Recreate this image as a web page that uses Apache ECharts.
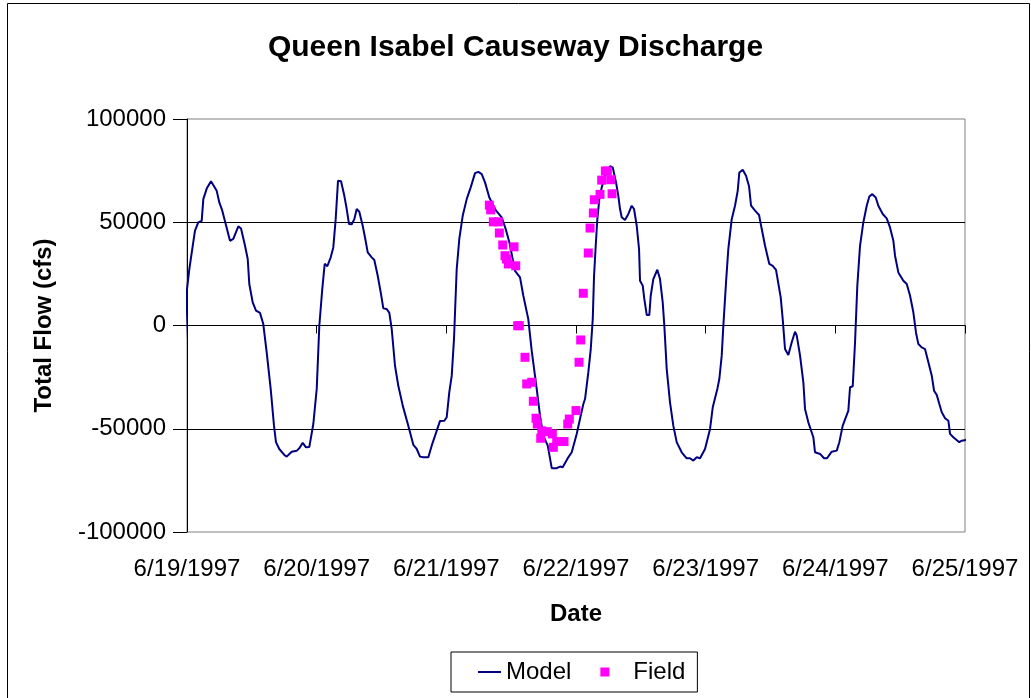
<!DOCTYPE html>
<html>
<head>
<meta charset="utf-8">
<script src="https://cdn.jsdelivr.net/npm/echarts@6/dist/echarts.min.js"></script>
<style>
html,body{margin:0;padding:0;background:#fff;}
#chart{width:1031px;height:698px;}
</style>
</head>
<body>
<div id="chart"></div>
<script>
// Hours since 6/19/1997 00:00
const modelHours = [-0.80,-0.56,-0.06,0.43,1.06,1.48,2.09,2.72,3.02,3.65,
4.44,5.50,5.98,6.53,7.96,8.57,9.50,10.00,10.74,11.24,
11.53,12.16,12.77,13.51,14.12,14.75,15.49,16.10,16.47,17.08,
18.01,18.45,19.38,20.30,20.79,21.42,22.03,22.64,23.38,24.01,
24.49,25.04,25.49,25.97,26.60,27.08,27.52,27.95,28.51,29.12,
29.56,29.99,30.49,30.97,31.41,31.89,32.52,33.00,33.45,34.19,
34.67,35.30,35.91,36.34,36.96,37.45,37.89,38.50,39.11,39.93,
40.96,41.89,42.52,43.13,43.74,44.67,45.29,46.09,46.83,47.63,
48.07,48.55,49.00,49.42,49.61,49.92,50.40,51.03,51.77,52.51,
53.31,53.92,54.55,55.16,55.96,57.20,58.25,58.99,59.66,60.71,
61.64,62.25,63.17,63.80,64.73,65.34,65.95,66.77,67.51,68.43,
69.04,69.54,70.39,71.21,72.13,72.74,73.36,73.67,74.28,74.73,
75.10,75.34,75.65,75.95,76.32,76.76,77.37,78.30,78.79,79.41,
79.83,80.15,80.46,81.07,81.69,82.31,82.74,83.24,83.67,83.85,
84.35,84.65,85.09,85.57,85.83,86.31,87.05,87.55,88.05,88.35,
88.79,89.40,90.01,90.64,91.56,92.49,93.10,93.72,94.35,94.96,
95.88,96.81,97.31,98.16,98.53,98.97,99.27,99.77,100.19,100.82,
101.43,101.93,102.23,102.86,103.47,104.03,104.40,105.14,105.88,106.38,
106.99,107.78,108.41,109.02,109.89,110.26,110.69,111.30,111.93,112.54,
112.86,113.47,114.08,114.39,115.00,115.93,116.24,117.17,117.91,118.46,
119.33,120.26,120.74,121.37,122.41,122.72,123.22,123.65,124.07,124.57,
125.18,125.81,126.29,126.85,127.48,127.96,128.77,129.51,130.12,130.74,
131.05,131.66,132.59,133.22,133.83,134.44,134.94,135.37,135.99,136.60,
137.22,137.85,138.27,138.77,139.25,139.70,140.31,140.92,141.23,141.84,
142.95,143.40,144.19,144.62,145.06];

const modelFlow = [-30700,-21100,16100,27300,38600,45900,49900,50700,61200,66300,
69900,65200,59600,55600,41000,41900,48000,47000,38600,32200,
20100,11200,7200,6100,700,-13000,-30700,-48500,-56500,-59800,
-62700,-63500,-61100,-60700,-59400,-56800,-59000,-58800,-47700,-30700,
-100,17700,29900,28700,33000,37800,51500,70100,69900,62800,
56400,49100,49000,51500,56400,55100,48300,41900,35400,33000,
31700,24100,15200,8300,8000,6100,-1700,-19500,-29200,-38800,
-48500,-57800,-59800,-63500,-63800,-63800,-58200,-52000,-46200,-46100,
-44400,-32300,-24300,-6500,6400,27300,41900,53100,61200,66900,
73800,74400,73300,69300,62000,55600,52400,46700,40300,26500,
23300,14400,3100,-12200,-30700,-43700,-53400,-58200,-69100,-69100,
-68300,-68600,-64600,-61400,-52500,-45300,-38000,-35600,-22700,-11400,
3100,24100,38600,51500,61200,66900,72500,77100,76600,69300,
62800,56400,52400,51100,54000,58000,56400,48300,37000,21700,
19300,12800,5100,5100,14400,22500,27000,22500,11200,-100,
-21100,-37200,-48500,-56500,-61400,-64300,-64300,-65400,-63800,-64300,
-59800,-50100,-39600,-30700,-25900,-14600,-100,20900,37000,51500,
58000,65200,74100,75400,72500,67400,58000,55600,53500,46700,
38600,29800,28900,26900,13600,3100,-11400,-14300,-8100,-3000,
-4900,-14600,-27500,-40400,-46900,-54100,-61400,-62200,-64300,-64300,
-61100,-60600,-56500,-48500,-41200,-29900,-29400,-8100,19300,38600,
49900,58000,62500,63600,62000,58000,54000,51900,47500,41000,
33800,25700,21700,20100,14400,6400,-3600,-9000,-10600,-11400,
-17800,-24300,-31600,-33600,-38000,-42000,-44900,-46100,-52500,-54100,
-56500,-55800,-55400,-54100,-52000];

const fieldHours = [55.96,56.21,56.70,57.62,57.81,58.44,60.53,58.86,59.14,59.47,
60.84,61.21,61.51,62.56,62.88,63.80,64.10,64.60,64.84,65.47,
65.66,66.69,67.62,67.80,68.43,69.78,70.47,70.76,72.00,72.56,
72.87,73.35,74.28,74.60,75.21,75.39,76.45,76.76,77.43,77.80,
78.43,78.67];

const fieldFlow = [58300,56000,50200,50200,44800,39000,38100,33800,32200,29800,
28900,-100,-100,-15400,-28300,-27500,-36700,-44900,-47700,-54600,
-51000,-51400,-52500,-59000,-56200,-56200,-47700,-45300,-41200,-17800,
-7000,15600,35100,47200,54500,60900,63500,70400,74800,74800,
70600,63800];

const dateLabels = ['6/19/1997','6/20/1997','6/21/1997','6/22/1997','6/23/1997','6/24/1997','6/25/1997'];

const FONT = '"Liberation Sans", Arial, sans-serif';

const chart = echarts.init(document.getElementById('chart'));
chart.setOption({
  animation: false,
  backgroundColor: '#fff',
  title: {
    text: 'Queen Isabel Causeway Discharge',
    left: 'center',
    top: 28,
    textStyle: {fontFamily: FONT, fontSize: 30, fontWeight: 'bold', color: '#000'}
  },
  graphic: [{
    type: 'rect', left: 5, top: 1, silent: true,
    shape: {width: 1022, height: 720},
    style: {fill: 'none', stroke: '#000', lineWidth: 1}
  }],
  legend: {
    left: 451, top: 652,
    padding: [8, 12, 8, 27],
    itemGap: 29,
    itemWidth: 23, itemHeight: 9,
    borderColor: '#000', borderWidth: 1,
    textStyle: {fontFamily: FONT, fontSize: 24, color: '#000'},
    data: [
      {name: 'Model', icon: 'path://M0,0 M23,9 M0,3.5 L23,3.5 L23,5.5 L0,5.5 Z'},
      {name: 'Field', icon: 'path://M0,0 L9,0 L9,9 L0,9 Z M23,0 M23,9', textStyle: {padding: [0, 0, 0, 5]}}
    ]
  },
  grid: {
    left: 187, right: 66, top: 119, bottom: 166,
    show: true, borderColor: '#808080', borderWidth: 1, backgroundColor: 'transparent'
  },
  xAxis: {
    type: 'value', min: 0, max: 144, interval: 24,
    name: 'Date', nameLocation: 'middle', nameGap: 70,
    nameTextStyle: {fontFamily: FONT, fontSize: 24, fontWeight: 'bold', color: '#000'},
    axisLine: {show: true, lineStyle: {color: '#000', width: 1}},
    axisTick: {show: true, length: 8, lineStyle: {color: '#000'}},
    axisLabel: {
      margin: 25, fontFamily: FONT, fontSize: 24, color: '#000',
      formatter: v => dateLabels[Math.round(v / 24)]
    },
    splitLine: {show: false}
  },
  yAxis: {
    type: 'value', min: -100000, max: 100000, interval: 50000,
    name: 'Total Flow (cfs)', nameLocation: 'middle', nameGap: 131,
    nameTextStyle: {fontFamily: FONT, fontSize: 24, fontWeight: 'bold', color: '#000'},
    axisLine: {show: true, lineStyle: {color: '#000', width: 1}},
    axisTick: {show: true, length: 14, lineStyle: {color: '#000'}},
    axisLabel: {
      margin: 21, fontFamily: FONT, fontSize: 24, color: '#000',
      formatter: v => String(v)
    },
    splitLine: {show: true, showMinLine: false, showMaxLine: false, lineStyle: {color: '#000', width: 1}}
  },
  series: [
    {
      name: 'Model', type: 'line',
      data: modelHours.map((h, i) => [h, modelFlow[i]]),
      showSymbol: false, symbol: 'none', clip: false,
      lineStyle: {color: '#000080', width: 2},
      itemStyle: {color: '#000080'},
      z: 3
    },
    {
      name: 'Field', type: 'scatter',
      data: fieldHours.map((h, i) => [h, fieldFlow[i]]),
      symbol: 'rect', symbolSize: 9,
      itemStyle: {color: '#FF00FF', opacity: 1},
      z: 4
    }
  ]
});
</script>
</body>
</html>
